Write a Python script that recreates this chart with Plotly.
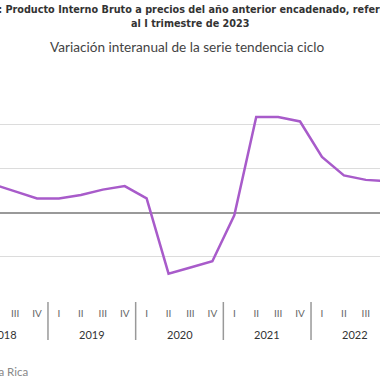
import plotly.graph_objects as go

# Data
years = ["2018", "2019", "2020", "2021", "2022", "2023"]
quarter_labels = ["I", "II", "III", "IV"]
# Quarterly interannual variation of trend-cycle series (%), 2018Q1..2023Q1
values = [3.6, 3.2, 2.4, 1.6,
          1.6, 2.0, 2.6, 3.0,
          1.6, -6.9, -6.2, -5.5,
          -0.3, 10.8, 10.8, 10.3,
          6.3, 4.2, 3.7, 3.6,
          3.4]

idx = list(range(len(values)))
ticktext = [quarter_labels[i % 4] for i in idx]

FONT = "Lato"
TFONT = "DejaVu Sans"
TOP, BOT = 79, 78
PH = 380 - TOP - BOT
fig = go.Figure()
fig.add_trace(go.Scatter(
    x=idx, y=values, mode="lines",
    line=dict(color="#a85bca", width=2.5),
    hoverinfo="skip", showlegend=False,
))

fig.update_layout(
    width=380, height=380,
    margin=dict(l=0, r=0, t=TOP, b=BOT),
    paper_bgcolor="white", plot_bgcolor="white",
    font=dict(family=FONT, color="#555"),
    xaxis=dict(
        range=[1.311, 1.311 + 380 / 21.92],
        tickvals=idx, ticktext=ticktext,
        showgrid=False, zeroline=False, showline=False,
        ticks="", tickfont=dict(size=10, color="#666", family=FONT),
        ticklabelstandoff=4,
    ),
    yaxis=dict(
        range=[-10.1, 15.1], tickvals=[-10, -5, 0, 5, 10, 15],
        showticklabels=False,
        showgrid=True, gridcolor="#dcdcdc", gridwidth=1,
        zeroline=True, zerolinecolor="#999999", zerolinewidth=2,
        showline=False,
    ),
)

# year separators and labels
for k, yr in enumerate(years[:-1]):
    sep = 4 * k + 3.5
    fig.add_shape(type="line", xref="x", yref="paper",
                  x0=sep, x1=sep, y0=0, y1=-38 / PH,
                  line=dict(color="#999999", width=1.5))
    fig.add_annotation(x=4 * k + 1.5, xref="x", y=0, yref="paper",
                       yshift=-32, yanchor="middle", showarrow=False,
                       text=yr, font=dict(size=11, color="#333", family=FONT))

# titles
fig.add_annotation(x=0.5, xref="paper", y=1, yref="paper", yshift=TOP - 9,
                   showarrow=False, yanchor="middle", xanchor="center",
                   text="<b>Costa Rica: Producto Interno Bruto a precios del año anterior encadenado, referencia 2017</b>",
                   font=dict(size=9.7, color="#333", family=TFONT))
fig.add_annotation(x=0.5, xref="paper", y=1, yref="paper", yshift=TOP - 23,
                   showarrow=False, yanchor="middle",
                   text="<b>al I trimestre de 2023</b>",
                   font=dict(size=9.7, color="#333", family=TFONT))
fig.add_annotation(x=0.491, xref="paper", y=1, yref="paper", yshift=TOP - 47,
                   showarrow=False, yanchor="middle",
                   text="Variación interanual de la serie tendencia ciclo",
                   font=dict(size=13.6, color="#444", family=FONT))
fig.add_annotation(x=30 / 380, xref="paper", y=0, yref="paper", yshift=-69,
                   showarrow=False, xanchor="right", yanchor="middle",
                   text="Fuente: Banco Central de Costa Rica",
                   font=dict(size=11.5, color="#888", family=FONT))

fig.write_html("out.html", config={"displayModeBar": False},
               post_script="document.body.style.margin='0';")
